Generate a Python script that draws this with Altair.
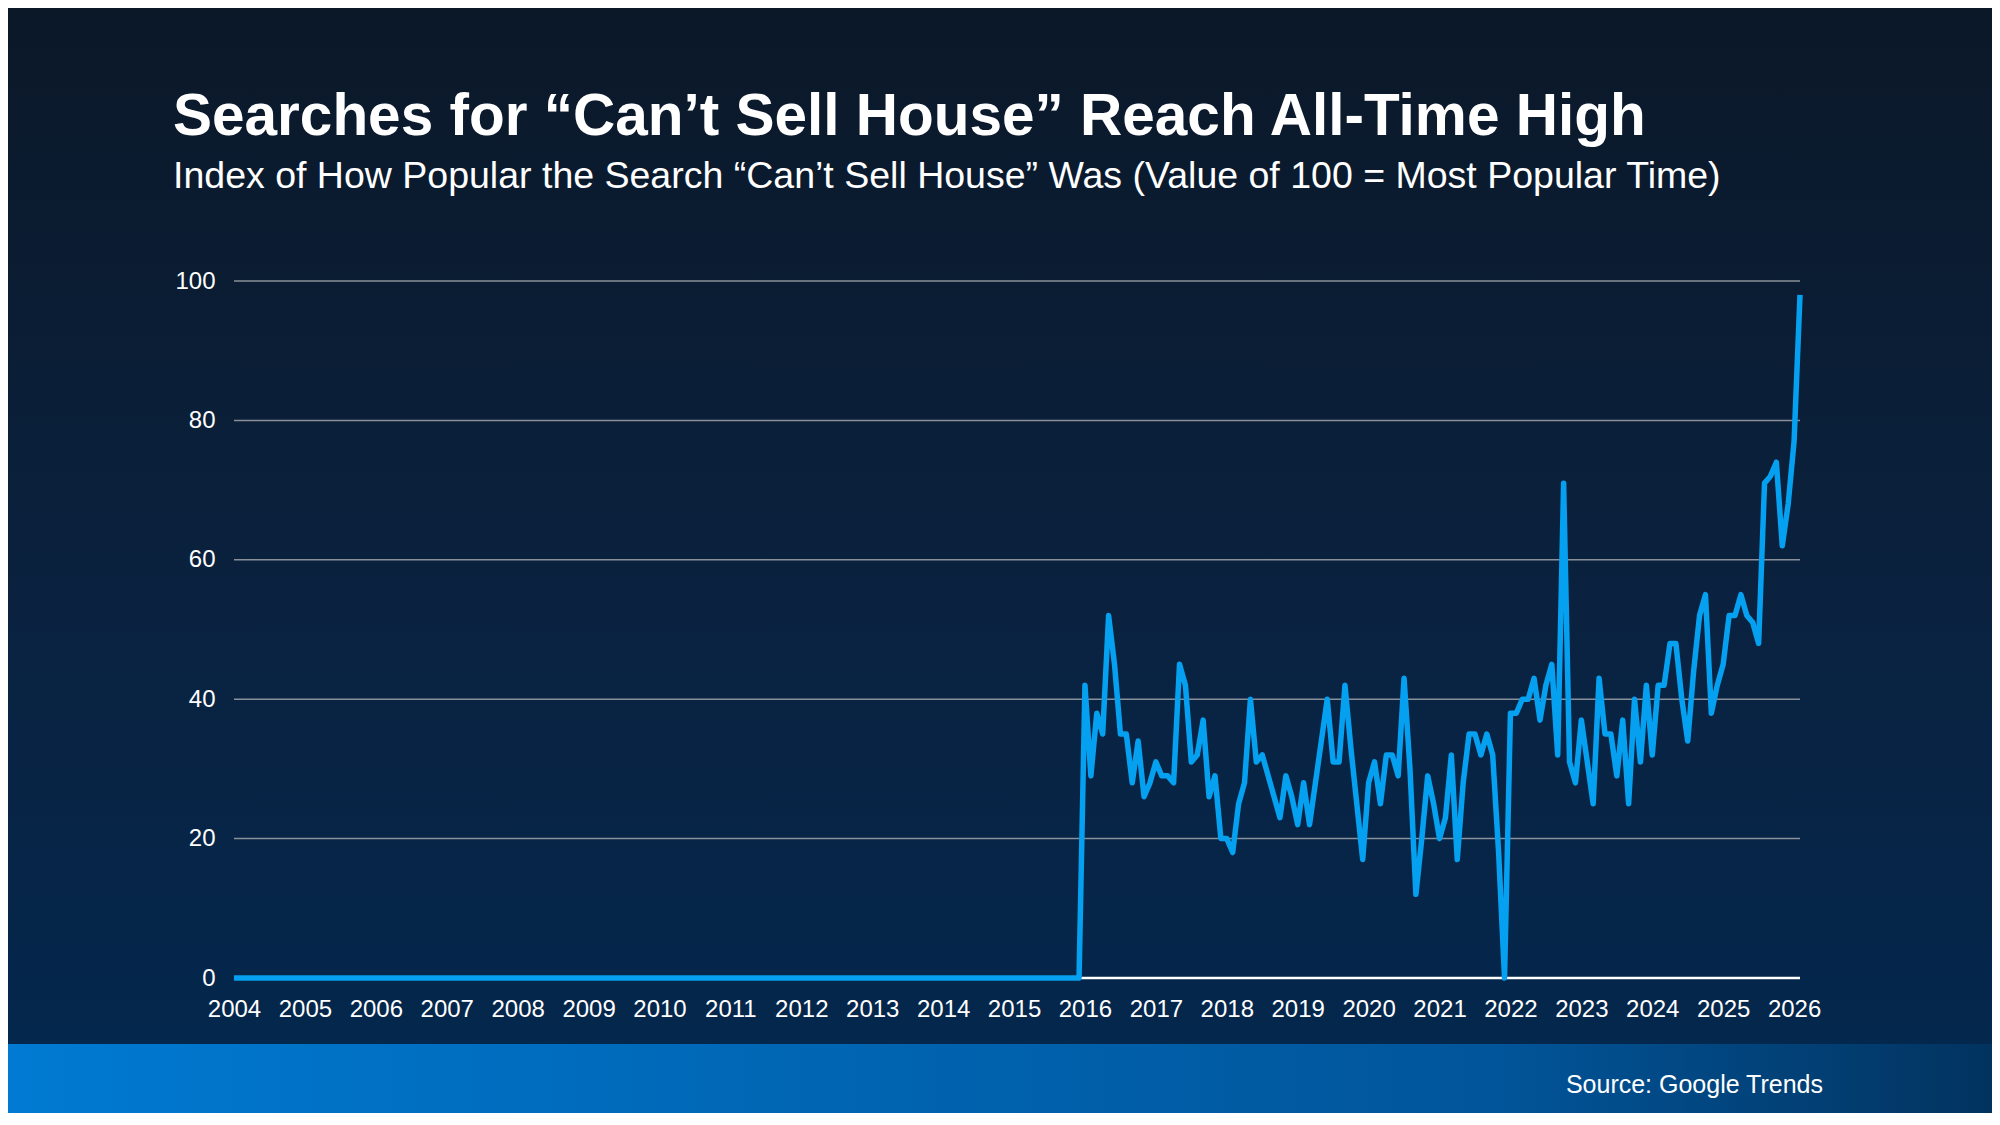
import altair as alt
import pandas as pd

# Google Trends index, monthly, Jan 2004 - Dec 2015 (reported as 0)
values_2004_2015 = [
    0, 0, 0, 0, 0, 0, 0, 0, 0, 0, 0, 0,  # 2004
    0, 0, 0, 0, 0, 0, 0, 0, 0, 0, 0, 0,  # 2005
    0, 0, 0, 0, 0, 0, 0, 0, 0, 0, 0, 0,  # 2006
    0, 0, 0, 0, 0, 0, 0, 0, 0, 0, 0, 0,  # 2007
    0, 0, 0, 0, 0, 0, 0, 0, 0, 0, 0, 0,  # 2008
    0, 0, 0, 0, 0, 0, 0, 0, 0, 0, 0, 0,  # 2009
    0, 0, 0, 0, 0, 0, 0, 0, 0, 0, 0, 0,  # 2010
    0, 0, 0, 0, 0, 0, 0, 0, 0, 0, 0, 0,  # 2011
    0, 0, 0, 0, 0, 0, 0, 0, 0, 0, 0, 0,  # 2012
    0, 0, 0, 0, 0, 0, 0, 0, 0, 0, 0, 0,  # 2013
    0, 0, 0, 0, 0, 0, 0, 0, 0, 0, 0, 0,  # 2014
    0, 0, 0, 0, 0, 0, 0, 0, 0, 0, 0, 0,  # 2015
]
# Jan 2016 - Feb 2026
values_2016_2026 = [
    42, 29, 38, 35, 52, 45, 35, 35, 28, 34, 26, 28,  # 2016
    31, 29, 29, 28, 45, 42, 31, 32, 37, 26, 29, 20,  # 2017
    20, 18, 25, 28, 40, 31, 32, 29, 26, 23, 29, 26,  # 2018
    22, 28, 22, 28, 34, 40, 31, 31, 42, 33, 25, 17,  # 2019
    28, 31, 25, 32, 32, 29, 43, 30, 12, 20, 29, 25,  # 2020
    20, 23, 32, 17, 28, 35, 35, 32, 35, 32, 18, 0,   # 2021
    38, 38, 40, 40, 43, 37, 42, 45, 32, 71, 31, 28,  # 2022
    37, 31, 25, 43, 35, 35, 29, 37, 25, 40, 31, 42,  # 2023
    32, 42, 42, 48, 48, 40, 34, 44, 52, 55, 38, 42,  # 2024
    45, 52, 52, 55, 52, 51, 48, 71, 72, 74, 62, 68,  # 2025
    77, 98,                                          # 2026
]
year_ticks = list(range(2004, 2027))
y_ticks = [0, 20, 40, 60, 80, 100]
grid_values = [20, 40, 60, 80, 100]

title_text = "Searches for \u201cCan\u2019t Sell House\u201d Reach All-Time High"
subtitle_text = ("Index of How Popular the Search \u201cCan\u2019t Sell House\u201d Was "
                 "(Value of 100 = Most Popular Time)")
source_text = "Source: Google Trends"

values = values_2004_2015 + values_2016_2026
df = pd.DataFrame({
    "t": [2004 + i / 12 for i in range(len(values))],
    "value": values,
})
grid_df = pd.DataFrame({"value": grid_values})
base_df = pd.DataFrame({"value": [0]})
one = pd.DataFrame({"a": [0]})

W, H = 1566, 697
PL, PT, PR, PB = 226, 273, 192, 135
FONT = "Liberation Sans"

x_scale = alt.Scale(domain=[2004, 2004 + (len(values) - 1) / 12], nice=False, zero=False)
y_scale = alt.Scale(domain=[0, 100], nice=False)
y_axis = alt.Axis(values=y_ticks, title=None, grid=False, domain=False, ticks=False,
                  tickSize=0, labelPadding=19, labelColor="white", labelFontSize=24,
                  labelFont=FONT, zindex=1)

bg = alt.Chart(one).mark_rect(
    clip=False,
    fill=alt.LinearGradient(
        gradient="linear", x1=0, y1=0, x2=0, y2=1,
        stops=[alt.GradientStop(color="#0b1828", offset=0),
               alt.GradientStop(color="#0a2240", offset=0.55),
               alt.GradientStop(color="#03284f", offset=1)],
    ),
).encode(x=alt.value(-PL), x2=alt.value(W + PR), y=alt.value(-PT), y2=alt.value(H + PB))

footer = alt.Chart(one).mark_rect(
    clip=False,
    fill=alt.LinearGradient(
        gradient="linear", x1=0, y1=0, x2=1, y2=0,
        stops=[alt.GradientStop(color="#007ad2", offset=0),
               alt.GradientStop(color="#0066b4", offset=0.4),
               alt.GradientStop(color="#01559a", offset=0.75),
               alt.GradientStop(color="#02335f", offset=1)],
    ),
).encode(x=alt.value(-PL), x2=alt.value(W + PR), y=alt.value(763), y2=alt.value(H + PB))

grid = alt.Chart(grid_df).mark_rule(color="#8a9099", strokeWidth=1.5).encode(
    y=alt.Y("value:Q", scale=y_scale, axis=y_axis),
    x=alt.value(0), x2=alt.value(W),
)

baseline = alt.Chart(base_df).mark_rule(color="white", strokeWidth=2.5).encode(
    y=alt.Y("value:Q", scale=y_scale, axis=y_axis),
    x=alt.value(0), x2=alt.value(W),
)

line = alt.Chart(df).mark_line(color="#05a0f0", strokeWidth=5.5, strokeJoin="round").encode(
    x=alt.X("t:Q", scale=x_scale,
            axis=alt.Axis(values=year_ticks, format="d", title=None, grid=False, ticks=False,
                          tickSize=0, domain=False, labelPadding=19, labelColor="white",
                          labelFontSize=24, labelFont=FONT, labelFlush=False,
                          labelOverlap=False, zindex=1)),
    y=alt.Y("value:Q", scale=y_scale, axis=y_axis),
)

title = alt.Chart(one).mark_text(
    text=title_text, align="left", baseline="alphabetic", font=FONT, fontWeight="bold",
    fontSize=58.5, color="white", clip=False,
).encode(x=alt.value(-61), y=alt.value(-146))

subtitle = alt.Chart(one).mark_text(
    text=subtitle_text, align="left", baseline="alphabetic", font=FONT,
    fontSize=37.5, color="white", clip=False,
).encode(x=alt.value(-61), y=alt.value(-93))

source = alt.Chart(one).mark_text(
    text=source_text, align="right", baseline="alphabetic", font=FONT,
    fontSize=25, color="white", clip=False,
).encode(x=alt.value(1589), y=alt.value(812))

chart = alt.layer(bg, footer, grid, baseline, line, title, subtitle, source).properties(
    width=W, height=H,
    autosize=alt.AutoSizeParams(type="none"),
    padding={"left": PL, "top": PT, "right": PR, "bottom": PB},
    background="#0a1f38",
).configure_view(stroke=None)

chart.save("out.html", embed_options={"renderer": "svg", "actions": False})
